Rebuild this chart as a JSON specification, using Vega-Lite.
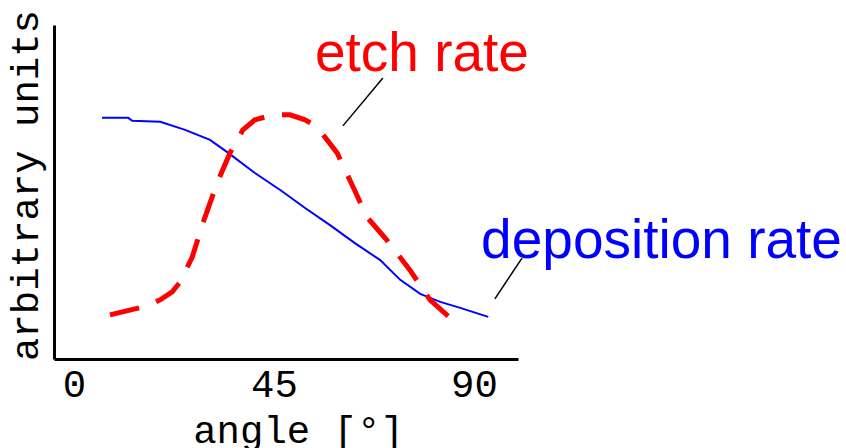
{
  "$schema": "https://vega.github.io/schema/vega-lite/v6.json",
  "width": 464,
  "height": 334,
  "autosize": {"type": "none"},
  "padding": {"left": 54, "top": 25, "right": 328, "bottom": 89},
  "background": "white",
  "config": {"view": {"stroke": null}},
  "datasets": {
    "deposition": [
      {"angle": 6.3, "value": 72.2}, {"angle": 12.2, "value": 72.2}, {"angle": 13.1, "value": 71.3},
      {"angle": 19.4, "value": 71.0}, {"angle": 25.0, "value": 68.6}, {"angle": 30.6, "value": 65.6},
      {"angle": 34.4, "value": 62.0}, {"angle": 40.7, "value": 55.7}, {"angle": 46.4, "value": 50.6},
      {"angle": 52.0, "value": 45.2}, {"angle": 57.6, "value": 40.1}, {"angle": 63.2, "value": 34.7},
      {"angle": 68.9, "value": 29.6}, {"angle": 73.4, "value": 23.7}, {"angle": 77.9, "value": 19.5},
      {"angle": 82.4, "value": 17.1}, {"angle": 86.9, "value": 15.3}, {"angle": 93.2, "value": 12.6}
    ],
    "etch": [
      {"angle": 8.1, "value": 13.2}, {"angle": 15.5, "value": 15.6}, {"angle": 19.4, "value": 17.7},
      {"angle": 22.1, "value": 20.1}, {"angle": 23.9, "value": 23.1}, {"angle": 26.6, "value": 30.5},
      {"angle": 29.0, "value": 40.7}, {"angle": 32.2, "value": 52.7}, {"angle": 35.1, "value": 61.7},
      {"angle": 38.0, "value": 68.6}, {"angle": 40.7, "value": 71.6}, {"angle": 44.8, "value": 73.1},
      {"angle": 48.6, "value": 73.1}, {"angle": 52.0, "value": 71.6}, {"angle": 54.7, "value": 69.5},
      {"angle": 59.2, "value": 61.7}, {"angle": 62.8, "value": 51.5}, {"angle": 65.9, "value": 42.5},
      {"angle": 70.4, "value": 35.6}, {"angle": 75.6, "value": 26.6}, {"angle": 80.1, "value": 17.7},
      {"angle": 86.9, "value": 9.6}
    ],
    "leaders": [
      {"leader": "etch rate", "angle": 60.5, "value": 69.8},
      {"leader": "etch rate", "angle": 69.5, "value": 84.1},
      {"leader": "deposition rate", "angle": 94.7, "value": 18.0},
      {"leader": "deposition rate", "angle": 100.8, "value": 30.2}
    ],
    "labels": [
      {"label": "etch rate", "angle": 54.2, "value": 86.2},
      {"label": "deposition rate", "angle": 91.6, "value": 30.2}
    ]
  },
  "encoding": {
    "x": {
      "field": "angle",
      "type": "quantitative",
      "scale": {"domain": [-4.5, 99.9], "nice": false, "zero": false},
      "axis": {
        "values": [0, 45, 90],
        "ticks": false,
        "grid": false,
        "domainColor": "black",
        "domainWidth": 3,
        "labelFont": "Liberation Mono",
        "labelFontSize": 39,
        "labelColor": "black",
        "labelPadding": 6,
        "labelFlush": false,
        "labelOverlap": false,
        "title": "angle [°]",
        "titleFont": "Liberation Mono",
        "titleFontSize": 39,
        "titleFontWeight": "normal",
        "titleColor": "black",
        "titleX": 244,
        "titleY": 83,
        "titleBaseline": "alphabetic",
        "titleAlign": "center"
      }
    },
    "y": {
      "field": "value",
      "type": "quantitative",
      "scale": {"domain": [0, 100], "nice": false, "zero": false},
      "axis": {
        "ticks": false,
        "labels": false,
        "grid": false,
        "domainColor": "black",
        "domainWidth": 3,
        "title": "arbitrary units",
        "titleFont": "Liberation Mono",
        "titleFontSize": 39,
        "titleFontWeight": "normal",
        "titleColor": "black",
        "titleAngle": -90,
        "titleX": -17,
        "titleY": 160,
        "titleBaseline": "alphabetic",
        "titleAlign": "center"
      }
    }
  },
  "layer": [
    {
      "data": {"name": "deposition"},
      "mark": {"type": "line", "color": "#0000ff", "strokeWidth": 2}
    },
    {
      "data": {"name": "etch"},
      "mark": {"type": "line", "color": "#ff0000", "strokeWidth": 5, "strokeDash": [30, 18], "strokeCap": "butt"}
    },
    {
      "data": {"name": "leaders"},
      "mark": {"type": "line", "color": "black", "strokeWidth": 1.5},
      "encoding": {"detail": {"field": "leader"}}
    },
    {
      "data": {"name": "labels"},
      "mark": {"type": "text", "font": "Liberation Sans", "fontSize": 55, "align": "left", "baseline": "alphabetic"},
      "encoding": {
        "text": {"field": "label"},
        "color": {
          "field": "label",
          "type": "nominal",
          "scale": {"domain": ["etch rate", "deposition rate"], "range": ["#ff0000", "#0000ff"]},
          "legend": null
        }
      }
    }
  ]
}
